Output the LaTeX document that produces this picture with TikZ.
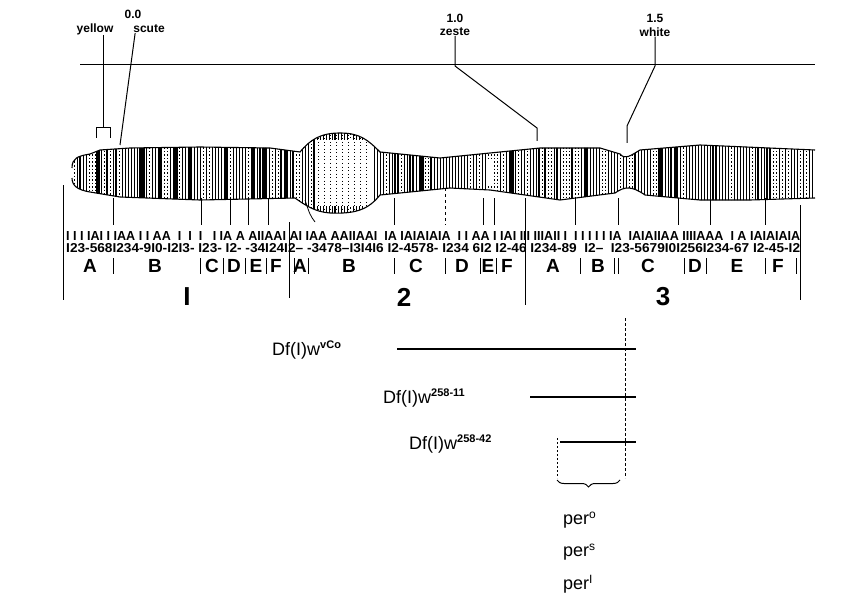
\documentclass[tikz,border=0pt]{standalone}
\usepackage{fontspec}
\setmainfont{Liberation Sans}
\usetikzlibrary{decorations.pathreplacing}
\begin{document}
\begin{tikzpicture}[x=1pt,y=-1pt,
  lab/.style={font=\bfseries\fontsize{12}{12}\selectfont,inner sep=0pt},
  sub/.style={font=\bfseries\fontsize{9}{9}\selectfont,inner sep=0pt},
  let/.style={font=\bfseries\fontsize{19}{19}\selectfont,inner sep=0pt},
  big/.style={font=\bfseries\fontsize{26}{26}\selectfont,inner sep=0pt},
  df/.style={font=\fontsize{18}{18}\selectfont,inner sep=0pt,anchor=west},
  ln/.style={line width=1pt}]
\useasboundingbox (0,0) rectangle (842,604);
% map labels
\node[lab] (l00) at (133,14) {0.0};
\node[lab] (ly) at (95,29) {yellow};
\node[lab] (ls) at (149,29) {scute};
\node[lab] (l10) at (455,18) {1.0};
\node[lab] (lz) at (455,32) {zeste};
\node[lab] (l15) at (655,18) {1.5};
\node[lab] (lw) at (655,32) {white};
\draw[ln] (80,65) -- (815,65);
\coordinate (yb) at (103,128);
\draw[ln] (ly.south -| yb) -- (yb);
\draw[ln] (96,138) -- (96,128) -- (110,128) -- (110,138);
\draw[ln] (ls.south west) ++(2,0) -- (120,145);
\draw[ln] (lz.south) -- (455,66) -- (537,128) -- (537,141);
\draw[ln] (lw.south) -- (655,66) -- (627,126) -- (627,143);
% chromosome
\def\toppath{(72,168) .. controls (72,158) and (78,156) .. (90,154) -- (100,150) -- (130,148) -- (200,147) -- (270,148) -- (300,152) .. controls (310,140) and (320,133) .. (340,133) .. controls (360,133) and (368,140) .. (380,152) -- (440,158) -- (490,153) -- (540,148) -- (600,148) -- (620,154) .. controls (625,160) and (630,156) .. (640,150) -- (700,145) -- (815,150)}
\def\botpath{(815,198) -- (750,200) -- (700,200) -- (645,195) .. controls (632,186) and (625,186) .. (615,193) -- (560,200) -- (490,190) -- (450,188) -- (380,195) .. controls (368,210) and (355,214) .. (330,213) .. controls (315,212) and (305,205) .. (295,198) -- (200,200) -- (120,197) -- (90,192) .. controls (78,190) and (72,186) .. (72,178)}
\begin{scope}
\clip \toppath -- \botpath -- cycle;
\pgfmathsetseed{7}
\foreach \x in {74,77,...,814}{
  \pgfmathsetmacro\w{0.3+1.6*rnd*rnd}
  \pgfmathsetmacro\r{rnd}
  \ifdim\r pt<0.3pt
    \draw[line width=0.6pt,dash pattern=on 1.5pt off 2pt] (\x,130) -- (\x,215);
  \else
    \draw[line width=\w pt] (\x,130) -- (\x,215);
  \fi}
\foreach \x in {98,143,160,176,190,226,253,264,286,422,512,586,661,676}
  \fill (\x-1.8,130) rectangle (\x+1.8,215);
\fill[white] (315,140) rectangle (372,206);
\foreach \x in {318,324,...,370}
  \draw[line width=0.5pt,dash pattern=on 1pt off 2.5pt] (\x,135) -- (\x,212);
\fill[white] (486,160) rectangle (494,186);
\end{scope}
\draw[line width=1.1pt] \toppath;
\draw[line width=1.1pt] \botpath;
% ticks
\foreach \x in {113,201,230,248,268,394,483,494,525,575,618,678,710,765}
  \draw[line width=0.8pt] (\x,198) -- (\x,225);
\draw[line width=0.8pt] (305,200) .. controls (310,215) .. (315,222);
\draw[line width=0.8pt,dashed] (445,188) -- (445,225);
\draw[line width=0.8pt] (63,185) -- (63,300);
\draw[line width=0.8pt] (289,222) -- (289,298);
\draw[line width=0.8pt] (525,222) -- (525,305);
\draw[line width=0.8pt] (800,205) -- (800,300);
\node[sub,anchor=west] (r1) at (66,236) {\resizebox{734pt}{9pt}{I I I IAI I IAA I I AA \ I \ I \ I \ \ I IA A AIIAAI AI IAA AAIIAAI \ IA IAIAIAIA \ I I AA I IAI III IIIAII I \ I I I I I IA \ IAIAIIAA IIIIAAA \ I A IAIAIAIA}};
\node[sub,anchor=west] (r2) at (66,248) {\resizebox{734pt}{9pt}{I23-568I234-9I0-I2I3- I23- I2- -34I24I2-- -3478--I3I4I6 I2-4578- I234 6I2 I2-46 I234-89 \ I2-- \ I23-5679I0I256I234-67 I2-45-I2}};
% letters
\foreach \t/\x in {A/90,B/155,C/212,D/234,E/256,F/276,A/300,B/349,C/416,D/462,E/488,F/507,A/553,B/598,C/648,D/695,E/737,F/778}
  \node[let] at (\x,266) {\t};
\foreach \x in {113,200,223,245,266,294,308,394,445,480,496,580,614,618,684,706,765,796}
  \draw[line width=0.8pt] (\x,258) -- (\x,274);
\node[big] (n1) at (187,297) {I};
\node[big] (n2) at (404,297) {2};
\node[big] (n3) at (663,297) {3};
% deficiencies
\node[df] (d1) at (272,350) {Df(I)w$^{\mbox{\bfseries\fontsize{11}{11}\selectfont vCo}}$};
\node[df] (d2) at (383,398) {Df(I)w$^{\mbox{\bfseries\fontsize{11}{11}\selectfont 258-11}}$};
\node[df] (d3) at (409,444) {Df(I)w$^{\mbox{\bfseries\fontsize{11}{11}\selectfont 258-42}}$};
\coordinate (e1) at (636,349);
\coordinate (e2) at (636,397);
\coordinate (e3) at (636,442);
\draw[line width=1.2pt] (397,349) -- (e1);
\draw[line width=1.2pt] (530,397) -- (e2);
\draw[line width=1.2pt] (560,442) -- (e3);
\draw[line width=0.8pt,dash pattern=on 3pt off 2pt] (625,318) -- (625,478);
\draw[line width=0.8pt,dash pattern=on 2pt off 2pt] (557,438) -- (557,478);
\draw[line width=1pt,decorate,decoration={brace,mirror,amplitude=7pt}] (557,480) -- (620,480);
\node[df] (p1) at (563,520) {per$^{\mbox{\fontsize{12}{12}\selectfont o}}$};
\node[df] (p2) at (563,552) {per$^{\mbox{\fontsize{12}{12}\selectfont s}}$};
\node[df] (p3) at (563,584) {per$^{\mbox{\fontsize{12}{12}\selectfont I}}$};
\end{tikzpicture}
\end{document}
